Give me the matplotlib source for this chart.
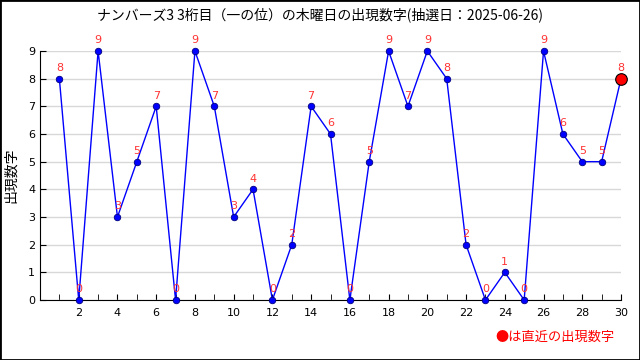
import matplotlib
matplotlib.use("Agg")
import matplotlib.pyplot as plt
from matplotlib.patches import Rectangle

plt.rcParams['font.family'] = ['Noto Sans CJK JP', 'DejaVu Sans']

# draws 1..30, digit drawn each time
draws = list(range(1, 31))
digits = [8, 0, 9, 3, 5, 7, 0, 9, 7, 3, 4, 0, 2, 7, 6, 0, 5, 9, 7, 9,
          8, 2, 0, 1, 0, 9, 6, 5, 5, 8]
title = "ナンバーズ3 3桁目（一の位）の木曜日の出現数字(抽選日：2025-06-26)"


def draw_chart():
    fig = plt.figure(figsize=(6.4, 3.6), dpi=100)
    ax = fig.add_axes([40 / 640, 1 - 300 / 360, 581 / 640, 249 / 360])

    ax.plot(draws, digits, color="blue", lw=1, zorder=3)
    ax.scatter(draws[:-1], digits[:-1], s=22, color="blue", edgecolors="navy",
               linewidths=0.6, zorder=4, clip_on=False)
    ax.scatter(draws[-1:], digits[-1:], s=70, color="red", edgecolors="black",
               linewidths=0.8, zorder=5, clip_on=False)

    # value labels above each point
    for x, y in zip(draws, digits):
        ax.annotate(str(y), (x, y), xytext=(0, 4), textcoords="offset points",
                    ha="center", va="bottom", color="#ff3333", fontsize=8,
                    family="DejaVu Sans", zorder=6, annotation_clip=False)

    ax.set_xlim(0, 30)
    ax.set_ylim(0, 9)
    ax.set_xticks(range(2, 31, 2))
    ax.set_xticks(range(1, 31), minor=True)
    ax.set_yticks(range(0, 10))
    ax.tick_params(axis="both", direction="in", labelsize=8, length=4)
    ax.tick_params(axis="x", which="minor", direction="in", length=4)
    ax.tick_params(axis="x", pad=6)
    for lbl in ax.get_xticklabels() + ax.get_yticklabels():
        lbl.set_family("DejaVu Sans")

    ax.grid(axis="y", color="#d8d8d8", lw=1)
    ax.set_axisbelow(True)
    for side in ("top", "right"):
        ax.spines[side].set_visible(False)

    # y label as figure text so it sits near the left edge
    fig.text(11 / 640, 1 - 175 / 360, "出現数字", rotation=90, ha="center",
             va="center", fontsize=10)
    fig.text(0.5, 1 - 15 / 360, title, ha="center", va="center", fontsize=10)
    fig.text(615 / 640, 1 - 337 / 360, "●は直近の出現数字", ha="right",
             va="center", color="red", fontsize=9.5)

    fig.patches.append(Rectangle((0, 0), 1, 1, transform=fig.transFigure,
                                 fill=False, edgecolor="black", lw=2))
    fig.savefig("out.png", dpi=100)


if __name__ == "__main__":
    draw_chart()
